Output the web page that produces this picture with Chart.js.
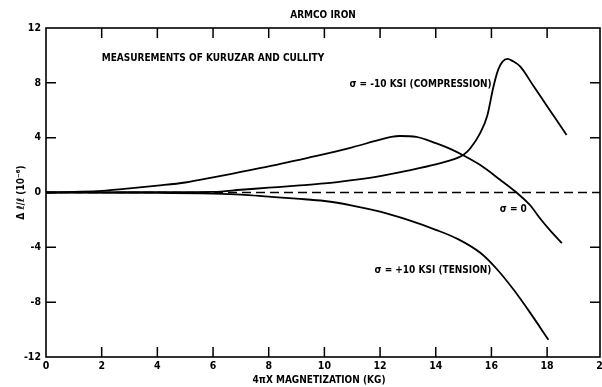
<!DOCTYPE html>
<html>
<head>
<meta charset="utf-8">
<script src="https://cdn.jsdelivr.net/npm/chart.js@4.4.1/dist/chart.umd.min.js"></script>
<style>
  html, body { margin: 0; padding: 0; background: #fff; }
  #wrap { width: 602px; height: 387px; }
</style>
</head>
<body>
<div id="wrap"><canvas id="chart"></canvas></div>
<script>
// values (x in kG, y in 10^-6)
const compX = [0, 2, 4, 6, 7, 8, 9, 10, 11, 12, 13, 14, 14.6, 15, 15.25, 15.6, 15.85, 16.07, 16.25, 16.4, 16.58, 16.75, 17.03, 17.5, 18, 18.7];
const compY = [0, 0.01, 0.03, 0.05, 0.2, 0.35, 0.5, 0.66, 0.9, 1.2, 1.6, 2.05, 2.4, 2.75, 3.25, 4.35, 5.6, 7.7, 9.0, 9.55, 9.75, 9.6, 9.2, 7.8, 6.3, 4.2];

const zeroX = [0, 1, 2, 3, 4, 5, 6, 7, 8, 9, 10, 11, 12, 12.4, 12.7, 13.3, 14, 14.5, 15, 15.6, 16.3, 16.9, 17.4, 17.75, 18.1, 18.53];
const zeroY = [0, 0.05, 0.12, 0.3, 0.5, 0.73, 1.1, 1.5, 1.9, 2.35, 2.8, 3.3, 3.85, 4.05, 4.12, 4.05, 3.6, 3.2, 2.7, 2.0, 0.95, 0, -0.95, -1.9, -2.75, -3.7];

const tensX = [0, 4, 6, 7, 8, 9, 10, 11, 12, 13, 14, 14.8, 15.6, 16.2, 16.8, 17.4, 18.05];
const tensY = [0, -0.02, -0.08, -0.15, -0.3, -0.45, -0.62, -0.95, -1.4, -2.0, -2.72, -3.4, -4.4, -5.6, -7.1, -8.8, -10.75];

const baseX = [0, 19.9];
const baseY = [0, 0];

const xTicks = [0, 2, 4, 6, 8, 10, 12, 14, 16, 18, 20];
const yTicks = [-12, -8, -4, 0, 4, 8, 12];

const FONT = '"DejaVu Sans Condensed", "Liberation Sans Narrow", "DejaVu Sans", sans-serif';

function pts(xs, ys) {
    return xs.map((x, i) => ({ x: x, y: ys[i] }));
}

function line(label, xs, ys, dash) {
    return {
        label: label,
        data: pts(xs, ys),
        borderColor: '#000',
        borderWidth: dash ? 1.3 : 1.8,
        borderDash: dash || [],
        pointRadius: 0,
        showLine: true,
        fill: false,
        cubicInterpolationMode: 'monotone'
    };
}

// frame, inward ticks and all the text labels
const decor = {
    id: 'decor',
    afterDatasetsDraw(chart) {
        const ctx = chart.ctx;
        const a = chart.chartArea;
        const xs = chart.scales.x, ys = chart.scales.y;
        ctx.save();
        ctx.strokeStyle = '#000';
        ctx.lineWidth = 1.6;
        ctx.strokeRect(a.left, a.top, a.right - a.left, a.bottom - a.top);
        ctx.lineWidth = 1.5;
        ctx.beginPath();
        xTicks.forEach(v => {
            if (v <= 0 || v >= 19.9) return;
            const p = xs.getPixelForValue(v);
            ctx.moveTo(p, a.bottom); ctx.lineTo(p, a.bottom - 10);
            ctx.moveTo(p, a.top); ctx.lineTo(p, a.top + 10);
        });
        yTicks.forEach(v => {
            if (v <= -12 || v >= 12) return;
            const p = ys.getPixelForValue(v);
            ctx.moveTo(a.left, p); ctx.lineTo(a.left + 10, p);
            if (v !== 0) { ctx.moveTo(a.right, p); ctx.lineTo(a.right - 10, p); }
        });
        ctx.stroke();

        ctx.fillStyle = '#000';
        ctx.font = 'bold 10px ' + FONT;
        ctx.textBaseline = 'middle';

        ctx.textAlign = 'center';
        ctx.fillText('ARMCO IRON', (a.left + a.right) / 2, a.top - 13);
        ctx.fillText('4\u03c0X MAGNETIZATION (KG)', (a.left + a.right) / 2 - 4, 380);

        ctx.textAlign = 'left';
        const put = (t, x, y) => ctx.fillText(t, xs.getPixelForValue(x), ys.getPixelForValue(y));
        put('MEASUREMENTS OF KURUZAR AND CULLITY', 2.0, 9.76);
        put('\u03c3 = -10 KSI (COMPRESSION)', 10.9, 7.86);
        put('\u03c3 = 0', 16.3, -1.26);
        put('\u03c3 = +10 KSI (TENSION)', 11.8, -5.7);

        ctx.translate(21, ys.getPixelForValue(0));
        ctx.rotate(-Math.PI / 2);
        ctx.textAlign = 'center';
        ctx.fillText('\u0394 \u2113/\u2113 (10\u207b\u2076)', 0, 0);
        ctx.restore();
    }
};

new Chart(document.getElementById('chart'), {
    type: 'scatter',
    data: {
        datasets: [
            line('sigma = -10 ksi (compression)', compX, compY),
            line('sigma = 0', zeroX, zeroY),
            line('sigma = +10 ksi (tension)', tensX, tensY),
            line('zero', baseX, baseY, [9, 5])
        ]
    },
    options: {
        responsive: true,
        maintainAspectRatio: false,
        animation: false,
        layout: { padding: { top: 28, right: 2, left: 0, bottom: 0 } },
        plugins: {
            legend: { display: false },
            tooltip: { enabled: false }
        },
        scales: {
            x: {
                type: 'linear',
                min: 0,
                max: 19.9,
                afterFit: s => { s.height = 30; s.paddingLeft = 0; s.paddingRight = 0; },
                afterBuildTicks: s => { s.ticks = xTicks.map(v => ({ value: v })); },
                grid: { display: false, drawTicks: false },
                border: { display: false },
                ticks: { color: '#000', padding: 3, font: { family: FONT, size: 10.5, weight: 'bold' } }
            },
            y: {
                type: 'linear',
                min: -12,
                max: 12,
                afterFit: s => { s.width = 46; s.paddingTop = 0; s.paddingBottom = 0; },
                afterBuildTicks: s => { s.ticks = yTicks.map(v => ({ value: v })); },
                grid: { display: false, drawTicks: false },
                border: { display: false },
                ticks: { color: '#000', padding: 5, font: { family: FONT, size: 10.5, weight: 'bold' } }
            }
        }
    },
    plugins: [decor]
});
</script>
</body>
</html>
